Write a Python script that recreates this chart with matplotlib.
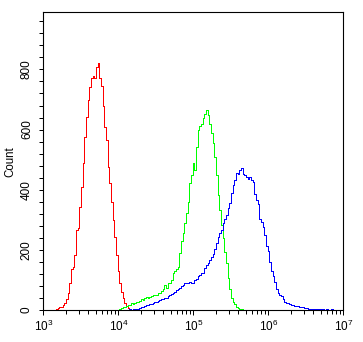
import numpy as np
import matplotlib
matplotlib.use('Agg')
import matplotlib.pyplot as plt
from matplotlib.ticker import MultipleLocator, LogLocator, FixedLocator, NullFormatter

# 180 log-spaced channels covering 10^3 .. 10^7
channels = np.logspace(3, 7, 181)

# isotype / unstained control (red)
red_start = 7
red_counts = [0, 2, 6, 9, 11, 17, 24, 35, 55, 89,
              135, 144, 183, 266, 271, 343, 410, 488, 576, 643,
              698, 740, 770, 778, 773, 809, 822, 770, 745, 680,
              609, 565, 476, 421, 360, 299, 244, 183, 131, 91,
              61, 40, 23, 13, 6, 2, 0]

# green sample
green_start = 45
green_counts = [0, 2, 6, 9, 11, 13, 17, 15, 22, 20,
                24, 28, 27, 30, 35, 33, 39, 42, 41, 44,
                47, 49, 51, 50, 55, 58, 64, 69, 83, 72,
                89, 91, 100, 122, 131, 135, 144, 188, 230, 255,
                290, 324, 360, 421, 449, 490, 465, 543, 598, 612,
                620, 640, 652, 665, 648, 618, 587, 554, 510, 449,
                382, 332, 283, 238, 194, 155, 105, 69, 41, 28,
                20, 11, 8, 4, 2, 1, 0]

# blue sample
blue_start = 50
blue_counts = [0, 1, 2, 1, 2, 3, 4, 4, 7, 9,
               11, 13, 17, 18, 20, 19, 22, 25, 28, 31,
               33, 37, 35, 39, 41, 47, 50, 53, 55, 61,
               66, 69, 74, 80, 83, 89, 91, 91, 94, 91,
               91, 100, 102, 113, 116, 124, 124, 139, 150, 155,
               166, 177, 186, 202, 222, 242, 255, 266, 290, 301,
               316, 338, 357, 390, 416, 432, 454, 452, 465, 471,
               452, 449, 443, 434, 443, 432, 427, 386, 366, 352,
               301, 294, 277, 249, 213, 197, 161, 131, 113, 94,
               69, 58, 50, 47, 35, 28, 24, 22, 20, 18,
               17, 14, 13, 12, 11, 9, 9, 7, 6, 4,
               4, 3, 4, 2, 3, 2, 3, 2, 3, 1,
               2, 1, 1, 2, 1, 1, 1, 0, 1, 0,
               17]

y_ticks = [0, 200, 400, 600, 800]
x_ticks = [1e3, 1e4, 1e5, 1e6, 1e7]
x_labels = [r'$\mathregular{10^{%d}}$' % e for e in range(3, 8)]

plt.rcParams['font.family'] = 'Liberation Sans'
plt.rcParams['font.size'] = 8.5
plt.rcParams['mathtext.default'] = 'regular'

fig = plt.figure(figsize=(3.63, 3.42), dpi=100)
ax = fig.add_axes([0.1194, 0.0936, 0.8264, 0.8705])

series = [(red_start, red_counts, '#ff0000'),
          (green_start, green_counts, '#00ff00'),
          (blue_start, blue_counts, '#0000ff')]
for start, counts, color in series:
    x = channels[start:start + len(counts)]
    ax.plot(x, counts, color=color, lw=0.72, drawstyle='steps-mid',
            antialiased=False)

ax.set_xscale('log')
ax.set_xlim(1e3, 1e7)
ax.set_ylim(0, 990)

ax.xaxis.set_major_locator(FixedLocator(x_ticks))
ax.set_xticklabels(x_labels)
ax.xaxis.set_minor_locator(LogLocator(base=10, subs=np.arange(2, 10)))
ax.xaxis.set_minor_formatter(NullFormatter())

ax.set_yticks(y_ticks)
ax.set_yticklabels([str(v) for v in y_ticks], rotation=90, va='center')
ax.yaxis.set_minor_locator(MultipleLocator(40))

ax.tick_params(which='both', direction='out', width=0.72, color='black')
ax.tick_params(axis='x', which='major', length=3.6, pad=2.5)
ax.tick_params(axis='x', which='minor', length=3.2)
ax.tick_params(axis='y', which='both', length=3.0, pad=4.5)

for s in ax.spines.values():
    s.set_linewidth(0.8)
    s.set_color('black')

ax.set_ylabel('Count', fontsize=8.3)
ax.yaxis.set_label_coords(-0.091, 0.5)

fig.savefig('out.png', dpi=100)
